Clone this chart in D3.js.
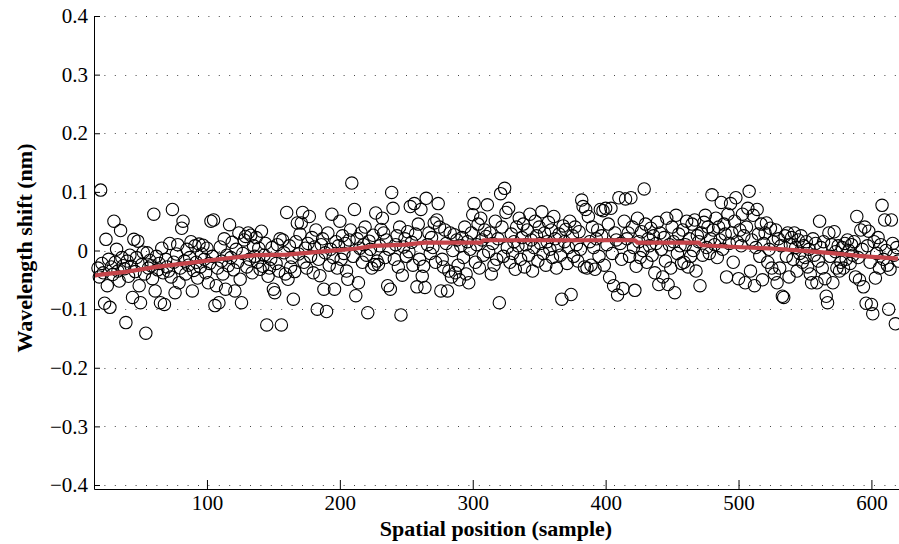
<!DOCTYPE html>
<html>
<head>
<meta charset="utf-8">
<script src="https://cdn.jsdelivr.net/npm/d3@7"></script>
<style>
    body { margin: 0; background: #fff; }
</style>
</head>
<body>
<svg class="chart" width="899" height="544"></svg>
<script>
// Sample positions start here, one circle per sample.
let sampleStart = 18;

// Wavelength shift (nm) per sample.
let shiftValues = [
    // 18-37
    -0.030, -0.045, 0.103, -0.022, -0.038, -0.090, 0.019, -0.060, -0.015, -0.097,
    -0.028, -0.041, 0.050, -0.020, 0.002, -0.035, -0.052, 0.034, -0.012, -0.026,
    // 38-57
    -0.031, -0.123, -0.018, -0.044, -0.008, -0.027, -0.080, 0.019, -0.036, -0.012,
    0.016, -0.060, -0.089, -0.024, -0.003, -0.040, -0.141, -0.004, -0.030, -0.017,
    // 58-77
    -0.026, -0.048, 0.062, -0.069, -0.010, -0.033, -0.022, -0.089, 0.004, -0.038,
    -0.092, -0.015, -0.028, -0.035, 0.012, -0.045, 0.070, -0.020, -0.072, -0.006,
    // 78-97
    0.010, -0.055, -0.030, 0.038, 0.050, -0.018, -0.040, 0.002, -0.025, -0.012,
    0.015, -0.069, -0.034, 0.008, -0.020, -0.047, 0.011, -0.028, -0.006, 0.009,
    // 98-117
    -0.015, -0.038, 0.004, -0.055, -0.022, 0.050, -0.010, 0.052, -0.094, -0.060,
    -0.030, -0.089, 0.006, -0.018, -0.040, 0.020, -0.066, -0.008, -0.026, 0.044,
    // 118-137
    -0.012, 0.014, -0.033, -0.069, 0.002, -0.020, 0.030, -0.049, -0.089, -0.005,
    0.018, 0.024, -0.028, 0.030, -0.015, 0.026, -0.038, 0.008, -0.010, 0.022,
    // 138-157
    -0.020, 0.004, -0.032, 0.033, -0.027, -0.008, 0.012, -0.127, -0.044, -0.030,
    -0.015, 0.005, -0.066, -0.072, -0.022, 0.010, -0.035, 0.020, -0.127, 0.018,
    // 158-177
    -0.004, -0.040, 0.065, -0.049, 0.008, -0.028, -0.012, -0.083, -0.036, 0.015,
    0.047, -0.006, 0.028, 0.047, 0.065, -0.020, 0.004, -0.030, 0.012, 0.058,
    // 178-197
    -0.010, 0.022, -0.038, 0.006, 0.035, -0.100, -0.015, -0.043, 0.010, 0.020,
    -0.066, -0.004, -0.104, 0.030, -0.025, 0.002, 0.062, -0.012, -0.066, 0.015,
    // 198-217
    -0.030, 0.008, 0.050, -0.015, 0.025, -0.005, 0.012, -0.035, -0.049, 0.018,
    0.035, 0.115, -0.010, 0.070, -0.077, 0.020, -0.055, 0.004, 0.030, -0.020,
    // 218-237
    0.010, 0.040, -0.008, -0.106, 0.016, 0.002, -0.030, 0.026, -0.024, 0.064,
    -0.018, -0.024, 0.008, 0.036, 0.055, 0.030, -0.012, 0.018, -0.060, 0.002,
    // 238-257
    -0.066, 0.099, 0.072, -0.015, 0.010, 0.025, -0.028, 0.040, -0.110, -0.042,
    0.006, 0.020, -0.010, 0.032, -0.002, 0.075, 0.014, -0.025, 0.080, 0.028,
    // 258-277
    -0.062, 0.045, -0.015, 0.070, -0.044, -0.027, -0.063, 0.089, 0.010, 0.030,
    -0.005, 0.022, 0.005, 0.047, -0.020, 0.052, 0.080, 0.040, -0.069, -0.015,
    // 278-297
    -0.028, 0.035, 0.012, -0.069, -0.035, 0.030, -0.045, 0.000, 0.027, -0.038,
    0.018, -0.025, -0.050, 0.008, 0.022, -0.012, 0.040, -0.040, 0.015, -0.055,
    // 298-317
    0.002, 0.030, 0.061, 0.080, -0.020, 0.010, 0.045, -0.030, 0.055, 0.018,
    -0.008, 0.035, 0.024, 0.078, -0.002, 0.030, -0.040, 0.012, -0.025, 0.050,
    // 318-337
    -0.015, 0.020, -0.089, 0.097, 0.040, -0.010, 0.106, 0.065, 0.005, 0.072,
    -0.020, 0.028, -0.005, 0.015, -0.032, 0.040, 0.008, 0.055, -0.015, 0.022,
    // 338-357
    0.045, -0.028, 0.010, 0.035, -0.008, 0.062, 0.018, -0.035, 0.005, 0.050,
    0.025, -0.018, 0.040, 0.012, 0.066, -0.005, 0.030, -0.025, 0.015, 0.048,
    // 358-377
    0.002, 0.035, -0.012, 0.058, 0.020, -0.030, 0.008, 0.028, -0.008, -0.083,
    0.042, 0.015, 0.036, -0.022, 0.005, 0.050, -0.075, 0.025, -0.010, 0.040,
    // 378-397
    0.010, -0.018, 0.032, 0.002, 0.086, 0.075, -0.028, 0.070, -0.030, 0.058,
    0.015, -0.025, 0.040, 0.005, -0.032, 0.020, 0.035, -0.010, 0.070, 0.025,
    // 398-417
    0.068, -0.025, 0.072, 0.010, 0.045, -0.046, 0.072, -0.005, -0.060, 0.030,
    0.018, -0.076, 0.090, 0.012, -0.015, -0.065, 0.050, 0.088, 0.020, 0.030,
    // 418-437
    -0.010, 0.090, 0.040, 0.005, -0.068, -0.027, 0.055, 0.015, -0.012, 0.032,
    0.000, 0.105, 0.045, -0.020, 0.020, 0.008, 0.038, -0.008, 0.025, -0.038,
    // 438-457
    0.012, 0.048, -0.058, 0.030, 0.002, -0.045, 0.022, -0.018, 0.055, -0.058,
    0.010, -0.030, 0.040, 0.015, -0.072, 0.060, -0.005, 0.028, 0.008, -0.022,
    // 458-477
    0.035, -0.020, 0.010, 0.050, -0.028, 0.020, -0.010, 0.045, 0.000, 0.052,
    -0.035, 0.025, 0.015, -0.060, 0.030, -0.008, 0.048, 0.060, 0.005, 0.040,
    // 478-497
    -0.005, 0.020, 0.095, 0.035, 0.010, 0.055, -0.012, 0.040, 0.018, 0.082,
    0.002, 0.045, 0.028, -0.045, 0.062, 0.012, 0.080, 0.030, -0.020, 0.050,
    // 498-517
    0.090, 0.015, -0.048, 0.035, 0.008, 0.062, 0.025, -0.055, 0.040, 0.072,
    0.101, -0.035, 0.018, 0.060, -0.060, 0.005, 0.070, 0.028, -0.010, 0.045,
    // 518-537
    -0.050, 0.012, 0.030, 0.047, -0.020, 0.002, 0.038, -0.030, 0.015, -0.040,
    0.035, -0.055, 0.020, -0.030, 0.008, -0.078, -0.080, 0.025, -0.010, 0.030,
    // 538-557
    -0.045, 0.010, 0.022, -0.015, 0.030, 0.005, -0.035, 0.018, -0.005, 0.025,
    -0.020, 0.008, -0.012, 0.015, -0.028, 0.002, -0.040, -0.055, 0.020, -0.008,
    // 558-577
    0.012, -0.055, -0.018, 0.050, 0.005, -0.030, 0.015, -0.048, -0.078, -0.089,
    0.030, -0.010, 0.010, -0.055, 0.032, -0.002, -0.030, 0.008, -0.035, -0.020,
    // 578-597
    0.005, -0.030, 0.012, -0.015, 0.018, 0.000, -0.022, 0.010, -0.008, 0.015,
    -0.045, 0.058, -0.012, -0.050, 0.035, 0.002, -0.062, 0.040, -0.090, 0.008,
    // 598-620
    0.033, -0.020, -0.092, -0.108, 0.015, -0.047, -0.005, 0.022, -0.030, 0.010,
    0.077, -0.015, 0.052, 0.000, -0.025, -0.100, -0.032, 0.052, 0.012, -0.008,
    -0.125, 0.005, -0.018
];

// Smoothed trend (red line), breakpoints.
let trendX = [15, 20, 37, 62, 87, 112, 137, 160, 186, 211, 226, 249, 264, 306, 308, 422, 424, 470, 472, 502, 528, 552, 572, 590, 620];
let trendY = [-0.043, -0.041, -0.037, -0.028, -0.021, -0.014, -0.008, -0.007, -0.002, 0.003, 0.008, 0.010, 0.0135, 0.0135, 0.0175, 0.0175, 0.0135, 0.0135, 0.009, 0.0056, 0.003, -0.001, -0.005, -0.009, -0.014];

let xTicks = [100, 200, 300, 400, 500, 600];
let yTicks = [-0.4, -0.3, -0.2, -0.1, 0, 0.1, 0.2, 0.3, 0.4];
let yTickLabels = ["\u22120.4", "\u22120.3", "\u22120.2", "\u22120.1", "0", "0.1", "0.2", "0.3", "0.4"];

let svg = d3.select(".chart");
let serif = "'Liberation Serif', 'Times New Roman', serif";

let plot = { left: 94, right: 898, top: 16, bottom: 489 };

let xScale = d3.scaleLinear()
    .domain([15, 620])
    .range([plot.left, plot.right]);

let yScale = d3.scaleLinear()
    .domain([-0.4068, 0.4])
    .range([plot.bottom, plot.top]);

// Dotted horizontal grid.
svg.append("g")
    .selectAll("line")
    .data(yTicks)
    .join("line")
    .attr("x1", plot.left)
    .attr("x2", 899)
    .attr("y1", d => Math.round(yScale(d)) + 0.5)
    .attr("y2", d => Math.round(yScale(d)) + 0.5)
    .attr("stroke", "#444")
    .attr("stroke-width", 1)
    .attr("stroke-dasharray", "1,9.4");

// Scatter of samples.
let points = shiftValues.map((v, i) => ({ x: sampleStart + i, y: v }));

svg.append("g")
    .selectAll("circle")
    .data(points)
    .join("circle")
    .attr("cx", d => xScale(d.x))
    .attr("cy", d => yScale(d.y))
    .attr("r", 6.2)
    .attr("fill", "none")
    .attr("stroke", "#000")
    .attr("stroke-width", 1.1);

// Trend line.
let trend = trendX.map((x, i) => [x, trendY[i]]);
let line = d3.line()
    .x(d => xScale(d[0]))
    .y(d => yScale(d[1]));

svg.append("path")
    .datum(trend)
    .attr("d", line)
    .attr("fill", "none")
    .attr("stroke", "#c5444a")
    .attr("stroke-width", 4.2)
    .attr("stroke-linejoin", "round");

// Axes, ticks pointing inward.
let xAxis = d3.axisBottom(xScale)
    .tickValues(xTicks)
    .tickFormat(d3.format("d"))
    .tickSizeInner(-9)
    .tickSizeOuter(0)
    .tickPadding(6);

let yAxis = d3.axisLeft(yScale)
    .tickValues(yTicks)
    .tickFormat((d, i) => yTickLabels[i])
    .tickSizeInner(-6)
    .tickSizeOuter(0)
    .tickPadding(6);

let gx = svg.append("g")
    .attr("transform", "translate(0," + plot.bottom + ")")
    .call(xAxis);

let gy = svg.append("g")
    .attr("transform", "translate(" + plot.left + ",0)")
    .call(yAxis);

[gx, gy].forEach(g => {
    g.selectAll("text")
        .style("font-family", serif)
        .attr("font-size", 21)
        .attr("fill", "#000");
    g.selectAll("line").attr("stroke", "#000");
    g.select(".domain").attr("stroke", "#000");
});
gx.select(".domain").attr("d", "M" + (plot.left + 0.5) + ",0.5H899");

// Axis titles.
svg.append("text")
    .attr("x", (plot.left + plot.right) / 2)
    .attr("y", 536)
    .attr("text-anchor", "middle")
    .style("font-family", serif)
    .attr("font-size", 22)
    .attr("font-weight", "bold")
    .text("Spatial position (sample)");

svg.append("text")
    .attr("transform", "translate(32," + 248 + ") rotate(-90)")
    .attr("text-anchor", "middle")
    .style("font-family", serif)
    .attr("font-size", 22)
    .attr("font-weight", "bold")
    .text("Wavelength shift (nm)");
</script>
</body>
</html>
